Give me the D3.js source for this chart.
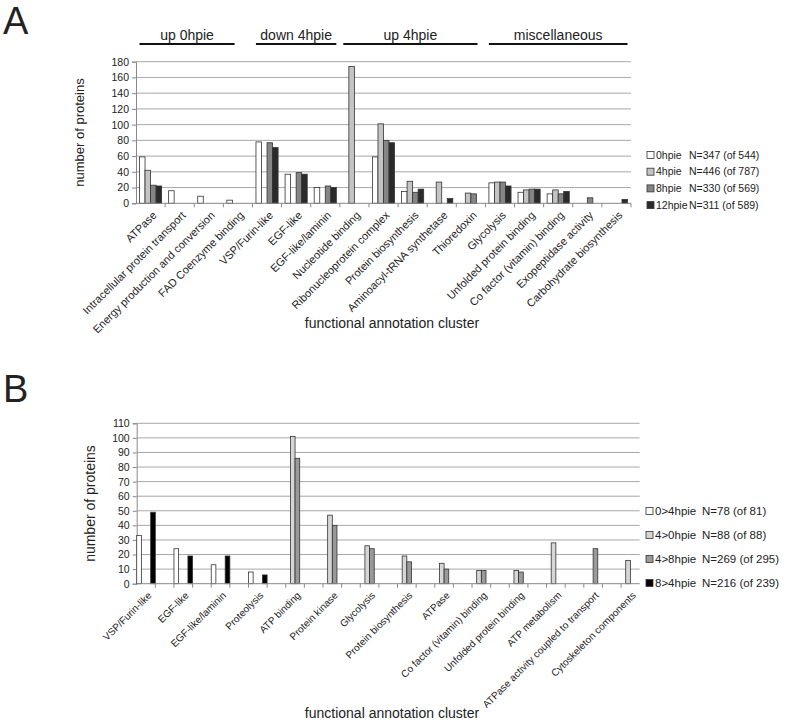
<!DOCTYPE html>
<html>
<head>
<meta charset="utf-8">
<script src="https://cdn.jsdelivr.net/npm/d3@7"></script>
<style>
  body { margin: 0; background: #fff; }
  text { font-family: "Liberation Sans", Arial, sans-serif; fill: #222; }
</style>
</head>
<body>
<div id="chart"></div>
<script>
// ---- panel A data ----
const catsA = ["ATPase", "Intracellular protein transport", "Energy production and conversion",
  "FAD Coenzyme binding", "VSP/Furin-like", "EGF-like", "EGF-like/laminin", "Nucleotide binding",
  "Ribonucleoprotein complex", "Protein biosynthesis", "Aminoacyl-tRNA synthetase", "Thioredoxin",
  "Glycolysis", "Unfolded protein binding", "Co factor (vitamin) binding", "Exopeptidase activity",
  "Carbohydrate biosynthesis"];
const seriesA = ["0hpie", "4hpie", "8hpie", "12hpie"];
const countsA = ["N=347 (of 544)", "N=446 (of 787)", "N=330 (of 569)", "N=311 (of 589)"];
const h0 = [59, 16, 9, 4, 78, 37, 20, 0, 59, 15, 0, 0, 26, 14, 12, 0, 0];
const h4 = [42, 0, 0, 0, 0, 0, 0, 174, 101, 28, 27, 13, 27, 17, 17, 0, 0];
const h8 = [23, 0, 0, 0, 77, 39, 22, 0, 80, 14, 0, 12, 27, 18, 12, 7, 0];
const h12 = [22, 0, 0, 0, 71, 37, 20, 0, 77, 18, 6, 0, 22, 18, 15, 0, 5];
// header groups: first / last category covered (last one may be partly covered)
const groupsA = [
  {label: "up 0hpie", from: 0, to: 3, part: 0.35},
  {label: "down 4hpie", from: 4, to: 6, part: 1},
  {label: "up 4hpie", from: 7, to: 11, part: 0.8},
  {label: "miscellaneous", from: 12, to: 16, part: 1}
];
const ticksA = d3.range(0, 181, 20);

// ---- panel B data ----
const catsB = ["VSP/Furin-like", "EGF-like", "EGF-like/laminin", "Proteolysis", "ATP binding",
  "Protein kinase", "Glycolysis", "Protein biosynthesis", "ATPase", "Co factor (vitamin) binding",
  "Unfolded protein binding", "ATP metabolism", "ATPase activity coupled to transport",
  "Cytoskeleton components"];
const seriesB = ["0>4hpie", "4>0hpie", "4>8hpie", "8>4hpie"];
const countsB = ["N=78 (of 81)", "N=88 (of 88)", "N=269 (of 295)", "N=216 (of 239)"];
const b04 = [33, 24, 13, 8, 0, 0, 0, 0, 0, 0, 0, 0, 0, 0];
const b40 = [0, 0, 0, 0, 101, 47, 26, 19, 14, 9, 9, 28, 0, 16];
const b48 = [0, 0, 0, 0, 86, 40, 24, 15, 10, 9, 8, 0, 24, 0];
const b84 = [49, 19, 19, 6, 0, 0, 0, 0, 0, 0, 0, 0, 0, 0];
const ticksB = d3.range(0, 111, 10);

const colorsA = ["#ffffff", "#c4c4c4", "#858585", "#2a2a2a"];
const colorsB = ["#ffffff", "#d6d6d6", "#9a9a9a", "#000000"];

const svg = d3.select("#chart").append("svg")
  .attr("width", 787).attr("height", 724);

// panel letters
svg.append("text").attr("x", 3).attr("y", 34).style("font-size", "38px").text("A");
svg.append("text").attr("x", 3).attr("y", 402).style("font-size", "38px").text("B");

// generic bar panel
function drawPanel(opt) {
  const g = svg.append("g").attr("transform", `translate(${opt.left}, ${opt.top})`);

  const y = d3.scaleLinear().domain(opt.yDomain).range([opt.height, 0]);

  // gridlines
  g.selectAll(".grid").data(opt.yTicks.filter(d => d > 0)).join("line")
    .attr("x1", 0).attr("x2", opt.width)
    .attr("y1", d => y(d)).attr("y2", d => y(d))
    .attr("stroke", "#a8a8a8").attr("stroke-width", 1);

  // y axis
  const yAxis = g.append("g")
    .call(d3.axisLeft(y).tickValues(opt.yTicks).tickSize(4).tickPadding(3));
  yAxis.select(".domain").attr("stroke", "#888");
  yAxis.selectAll(".tick line").attr("stroke", "#888");
  yAxis.selectAll("text").style("font-size", "10.5px").attr("fill", "#222");

  // bars
  const bars = g.append("g");
  opt.series.forEach((vals, si) => {
    bars.selectAll(null).data(vals.map((v, i) => ({v: v, i: i}))).join("rect")
      .filter(d => d.v > 0)
      .attr("x", d => opt.x(opt.key(d.i)) + opt.inner(si))
      .attr("width", opt.inner.bandwidth())
      .attr("y", d => y(d.v))
      .attr("height", d => opt.height - y(d.v))
      .attr("fill", opt.colors[si])
      .attr("stroke", "#333").attr("stroke-width", 0.8);
  });

  // x axis line with ticks at band boundaries
  const xg = g.append("g").attr("transform", `translate(0, ${opt.height})`);
  xg.append("line").attr("x1", 0).attr("x2", opt.width).attr("stroke", "#888");
  xg.selectAll(".xt").data(opt.boundaries).join("line")
    .attr("x1", d => d).attr("x2", d => d).attr("y1", 0).attr("y2", 4)
    .attr("stroke", "#888");

  // rotated category labels
  xg.selectAll(".lab").data(opt.cats).join("text")
    .attr("transform", (d, i) =>
      `translate(${opt.x(opt.key(i)) + opt.x.bandwidth() / 2 + 2}, 8) rotate(-45)`)
    .attr("text-anchor", "end")
    .attr("dy", "0.6em")
    .attr("fill", "#262626")
    .style("font-size", opt.labelSize)
    .text(d => d);

  // axis titles
  svg.append("text")
    .attr("transform", `translate(${opt.yTitleX}, ${opt.top + opt.height / 2}) rotate(-90)`)
    .attr("text-anchor", "middle")
    .style("font-size", opt.yTitleSize)
    .text("number of proteins");
  svg.append("text")
    .attr("x", 392).attr("y", opt.xTitleY)
    .attr("text-anchor", "middle")
    .style("font-size", "14px")
    .text("functional annotation cluster");

  // legend
  const lg = svg.append("g").attr("transform", `translate(${opt.legend.x}, ${opt.legend.y})`);
  opt.names.forEach((n, i) => {
    const row = lg.append("g").attr("transform", `translate(0, ${i * opt.legend.step})`);
    row.append("rect").attr("x", 0).attr("y", -3.5).attr("width", 7).attr("height", 7)
      .attr("fill", opt.colors[i]).attr("stroke", "#333").attr("stroke-width", 0.8);
    row.append("text").attr("x", 9).attr("dy", "0.35em")
      .style("font-size", opt.legend.size).text(n);
    row.append("text").attr("x", opt.legend.nx).attr("dy", "0.35em")
      .style("font-size", opt.legend.size).text(opt.counts[i]);
  });

  return g;
}

// ---- panel A ----
const widthA = 495, heightA = 141.6;
const xA = d3.scaleBand().domain(catsA).range([0, widthA]).paddingInner(0.24).paddingOuter(0.12);
const innerA = d3.scaleBand().domain(d3.range(4)).range([0, xA.bandwidth()]);
const stepA = xA.step();
drawPanel({
  left: 136, top: 61.7, width: widthA, height: heightA,
  yDomain: [0, 180], yTicks: ticksA,
  x: xA, key: i => catsA[i], inner: innerA, cats: catsA, labelSize: "11px",
  boundaries: d3.range(1, catsA.length + 1).map(k => k * stepA),
  series: [h0, h4, h8, h12], colors: colorsA,
  names: seriesA, counts: countsA,
  yTitleX: 84, yTitleSize: "13px", xTitleY: 328,
  legend: {x: 647, y: 155, step: 16.7, nx: 42, size: "10.5px"}
});

// group headers above panel A
groupsA.forEach(grp => {
  const x0 = 136 + xA(catsA[grp.from]);
  const x1 = 136 + xA(catsA[grp.to]) + xA.bandwidth() * grp.part;
  svg.append("line").attr("x1", x0).attr("x2", x1).attr("y1", 44).attr("y2", 44)
    .attr("stroke", "#111").attr("stroke-width", 2);
  svg.append("text").attr("x", (x0 + x1) / 2).attr("y", 40)
    .attr("text-anchor", "middle").style("font-size", "14px").text(grp.label);
});

// ---- panel B ----
// labelled categories alternate with empty slots
const widthB = 503, heightB = 160.4;
const slotsB = d3.range(catsB.length * 2 - 1);
const xB = d3.scaleBand().domain(slotsB).range([0, widthB]);
const innerB = d3.scaleBand().domain(d3.range(4)).range([0, xB.bandwidth()]);
drawPanel({
  left: 136.7, top: 423.3, width: widthB, height: heightB,
  yDomain: [0, 110], yTicks: ticksB,
  x: xB, key: i => i * 2, inner: innerB, cats: catsB, labelSize: "10px",
  boundaries: d3.range(1, slotsB.length).map(k => k * xB.step()),
  series: [b04, b40, b48, b84], colors: colorsB,
  names: seriesB, counts: countsB,
  yTitleX: 95, yTitleSize: "14px", xTitleY: 718,
  legend: {x: 646, y: 511, step: 24, nx: 56, size: "11.5px"}
});
</script>
</body>
</html>
